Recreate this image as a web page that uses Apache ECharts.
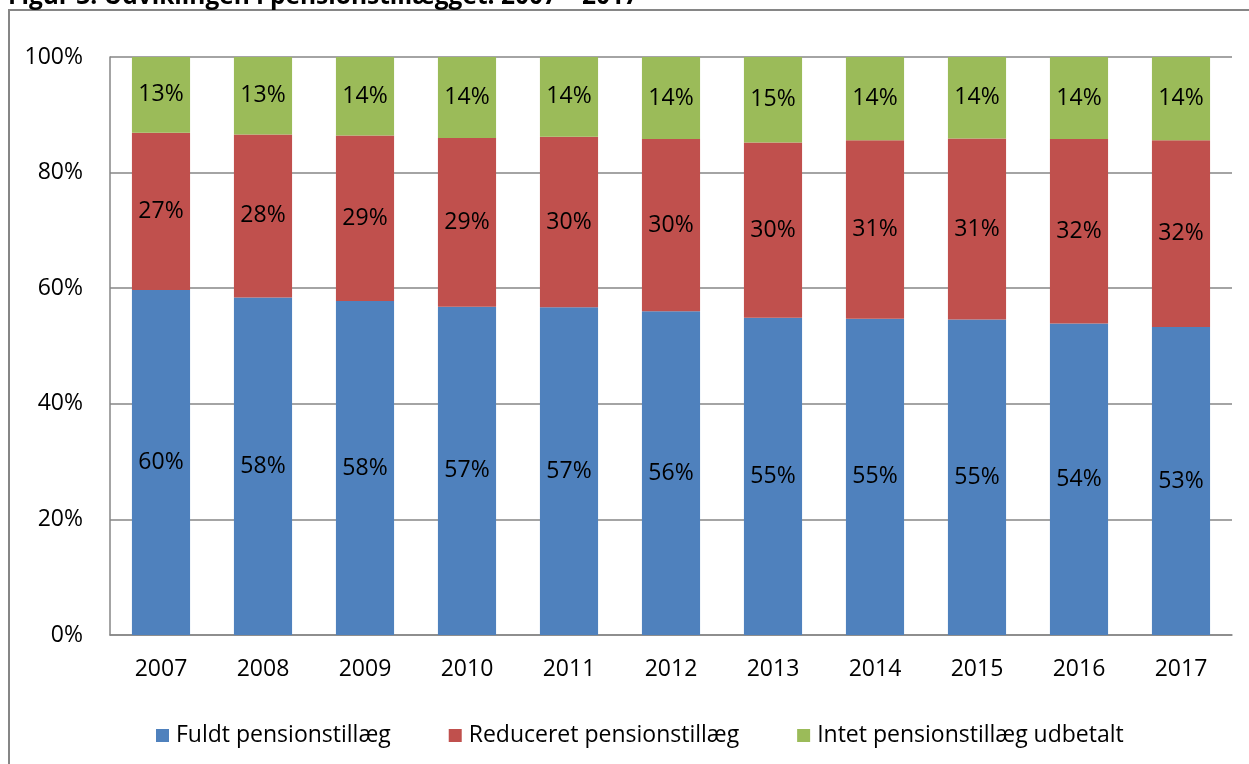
<!DOCTYPE html>
<html>
<head>
<meta charset="utf-8">
<script src="https://cdn.jsdelivr.net/npm/echarts@6/dist/echarts.min.js"></script>
<style>
html,body{margin:0;padding:0;background:#fff;}
#c{width:1249px;height:764px;}
</style>
</head>
<body>
<div id="c"></div>
<script>
const years = ['2007','2008','2009','2010','2011','2012','2013','2014','2015','2016','2017'];
const seriesNames = ['Fuldt pensionstillæg','Reduceret pensionstillæg','Intet pensionstillæg udbetalt'];
const fuldt = [59.7, 58.4, 57.8, 56.8, 56.7, 56.0, 54.9, 54.7, 54.6, 53.9, 53.3];
const reduceret = [27.2, 28.2, 28.6, 29.2, 29.5, 29.8, 30.3, 30.9, 31.3, 31.9, 32.3];
const intet = [13.1, 13.4, 13.6, 14.0, 13.8, 14.2, 14.8, 14.4, 14.1, 14.2, 14.4];
const yTicks = [0, 20, 40, 60, 80, 100];
const titleText = 'Figur 3. Udviklingen i pensionstillægget. 2007 – 2017';

const FONT = '"Open Sans", Calibri, sans-serif';
const FS = 23;
const colors = ['#4F81BD', '#C0504D', '#9BBB59'];
const gridGrey = '#868686';

const chart = echarts.init(document.getElementById('c'), null, {renderer: 'canvas'});

const labelCfg = {
  show: true,
  position: 'inside',
  color: '#000',
  fontFamily: FONT,
  fontSize: FS,
  formatter: p => Math.round(p.value) + '%'
};

const makeSeries = (name, data, color) => ({
  name: name,
  type: 'bar',
  stack: 'total',
  data: data,
  barWidth: '57%',
  itemStyle: {color: color},
  label: labelCfg,
  emphasis: {disabled: true}
});

chart.setOption({
  animation: false,
  color: colors,
  textStyle: {fontFamily: FONT},
  graphic: [
    {
      type: 'rect',
      shape: {x: 9, y: 10, width: 1400, height: 900},
      style: {fill: 'none', stroke: gridGrey, lineWidth: 2},
      silent: true,
      z: 0
    },
    {
      type: 'text',
      left: 8,
      top: -15,
      style: {
        text: titleText,
        fontFamily: FONT,
        fontWeight: 'bold',
        fontSize: 24.5,
        fill: '#000'
      },
      silent: true
    }
  ],
  grid: {left: 110, right: 17, top: 57, bottom: 129, containLabel: false},
  legend: {
    left: 151,
    top: 719,
    itemWidth: 13,
    itemHeight: 13,
    itemGap: 58,
    icon: 'rect',
    data: seriesNames,
    textStyle: {fontFamily: FONT, fontSize: FS, color: '#000', padding: [0, 0, 0, 2]},
    selectedMode: false
  },
  xAxis: {
    type: 'category',
    data: years,
    axisLine: {show: true, lineStyle: {color: gridGrey, width: 1.5}},
    axisTick: {show: false},
    axisLabel: {color: '#000', fontFamily: FONT, fontSize: FS, margin: 23}
  },
  yAxis: {
    type: 'value',
    min: yTicks[0],
    max: yTicks[yTicks.length - 1],
    interval: yTicks[1] - yTicks[0],
    axisLine: {show: true, lineStyle: {color: gridGrey, width: 1.5}},
    axisTick: {show: false},
    splitLine: {show: true, lineStyle: {color: gridGrey, width: 1.5}},
    axisLabel: {color: '#000', fontFamily: FONT, fontSize: FS, margin: 27, formatter: '{value}%'}
  },
  series: [
    makeSeries(seriesNames[0], fuldt, colors[0]),
    makeSeries(seriesNames[1], reduceret, colors[1]),
    makeSeries(seriesNames[2], intet, colors[2])
  ]
});
</script>
</body>
</html>
